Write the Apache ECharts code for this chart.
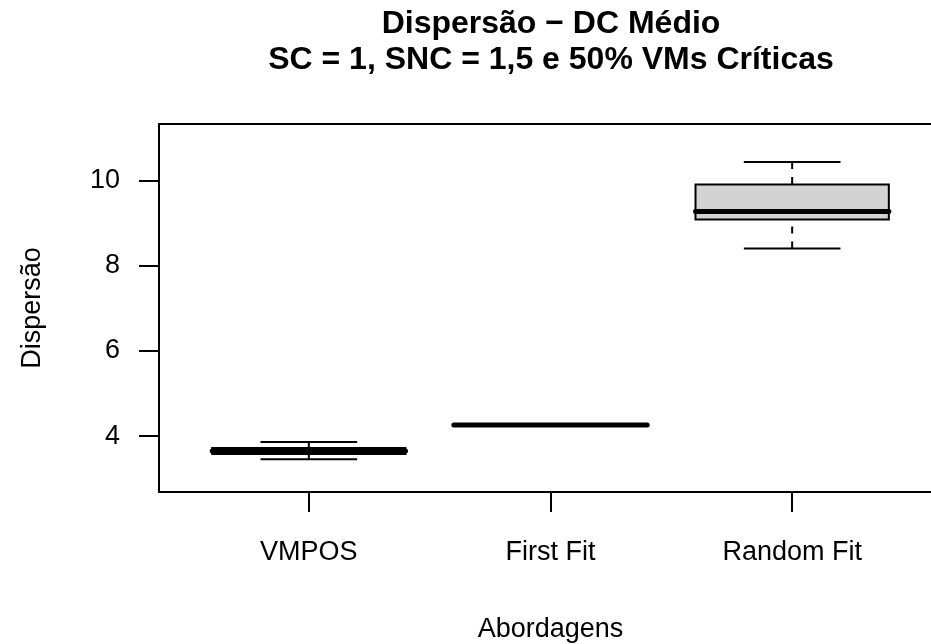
<!DOCTYPE html>
<html>
<head>
<meta charset="utf-8">
<script src="https://cdn.jsdelivr.net/npm/echarts@6/dist/echarts.min.js"></script>
<style>
  html, body { margin: 0; padding: 0; background: #fff; }
  #box3 { width: 931px; height: 644px; }
</style>
</head>
<body>
<div id="box3"></div>
<script>
var categories = ['VMPOS', 'First Fit', 'Random Fit'];
// min, q1, median, q3, max por abordagem
var whiskerLow = [3.46, 4.26, 8.40];
var boxLow = [3.58, 4.26, 9.08];
var medians = [3.65, 4.26, 9.27];
var boxHigh = [3.72, 4.26, 9.90];
var whiskerHigh = [3.86, 4.26, 10.43];
var yTicks = [4, 6, 8, 10];
var xTicks = [1, 2, 3];

var chart = echarts.init(document.getElementById('box3'));
var font = 'Liberation Sans, Arial, Helvetica, sans-serif';

var boxData = categories.map(function (c, i) {
    return [i + 1, whiskerLow[i], boxLow[i], medians[i], boxHigh[i], whiskerHigh[i]];
});

function renderBox(params, api) {
    var x = api.value(0);
    var halfW = api.size([0.4, 0])[0];
    var capW = halfW / 2;
    var pMin = api.coord([x, api.value(1)]);
    var pQ1 = api.coord([x, api.value(2)]);
    var pMed = api.coord([x, api.value(3)]);
    var pQ3 = api.coord([x, api.value(4)]);
    var pMax = api.coord([x, api.value(5)]);
    var cx = pMed[0];
    var thin = { stroke: '#000', lineWidth: 2, fill: null };
    var dashed = { stroke: '#000', lineWidth: 2, lineDash: [7, 8], fill: null };
    return {
        type: 'group',
        children: [
            { type: 'rect', shape: { x: cx - halfW, y: pQ3[1], width: halfW * 2, height: pQ1[1] - pQ3[1] },
              style: { fill: '#d3d3d3', stroke: null } },
            { type: 'line', shape: { x1: cx, y1: pMin[1], x2: cx, y2: pQ1[1] }, style: dashed },
            { type: 'line', shape: { x1: cx, y1: pMax[1], x2: cx, y2: pQ3[1] }, style: dashed },
            { type: 'line', shape: { x1: cx - capW, y1: pMin[1], x2: cx + capW, y2: pMin[1] }, style: thin },
            { type: 'line', shape: { x1: cx - capW, y1: pMax[1], x2: cx + capW, y2: pMax[1] }, style: thin },
            { type: 'rect', shape: { x: cx - halfW, y: pQ3[1], width: halfW * 2, height: pQ1[1] - pQ3[1] },
              style: thin },
            { type: 'line', shape: { x1: cx - halfW, y1: pMed[1], x2: cx + halfW, y2: pMed[1] },
              style: { stroke: '#000', lineWidth: 5, lineCap: 'round' } }
        ]
    };
}

var axisLineStyle = { color: '#000', width: 2 };

var option = {
    backgroundColor: '#fff',
    animation: false,
    title: {
        text: 'Dispersão \u2212 DC Médio\nSC = 1, SNC = 1,5 e 50% VMs Críticas',
        left: 546,
        top: 1,
        textAlign: 'center',
        textStyle: {
            fontFamily: font,
            fontSize: 32,
            fontWeight: 'bold',
            color: '#000',
            lineHeight: 36
        }
    },
    grid: {
        left: 159,
        right: -11,
        top: 124,
        bottom: 152,
        outerBoundsMode: 'none',
        containLabel: false
    },
    xAxis: [{
        type: 'value',
        min: 0.38,
        max: 3.62,
        name: 'Abordagens',
        nameLocation: 'middle',
        nameGap: 124,
        nameTextStyle: { fontFamily: font, fontSize: 27, color: '#000' },
        splitLine: { show: false },
        axisLine: { show: true, lineStyle: axisLineStyle },
        axisTick: { show: true, customValues: xTicks, length: 20, lineStyle: axisLineStyle },
        axisLabel: {
            customValues: xTicks,
            margin: 47,
            fontFamily: font,
            fontSize: 27,
            color: '#000',
            formatter: function (v) { return categories[Math.round(v) - 1]; }
        }
    }, {
        // linha superior da moldura
        type: 'value',
        position: 'top',
        min: 0.38,
        max: 3.62,
        splitLine: { show: false },
        axisLine: { show: true, lineStyle: axisLineStyle },
        axisTick: { show: false },
        axisLabel: { show: false }
    }],
    yAxis: {
        type: 'value',
        min: 2.69,
        max: 11.32,
        name: 'Dispersão',
        nameLocation: 'middle',
        nameGap: 113,
        nameTextStyle: { fontFamily: font, fontSize: 27, color: '#000' },
        splitLine: { show: false },
        axisLine: { show: true, lineStyle: axisLineStyle },
        axisTick: { show: true, customValues: yTicks, length: 20, lineStyle: axisLineStyle },
        axisLabel: {
            customValues: yTicks,
            margin: 39,
            fontFamily: font,
            fontSize: 27,
            color: '#000'
        }
    },
    series: [{
        type: 'custom',
        renderItem: renderBox,
        encode: { x: 0, y: [1, 2, 3, 4, 5] },
        data: boxData
    }]
};

chart.setOption(option);

window.onresize = function () {
    chart.resize();
};
</script>
</body>
</html>
